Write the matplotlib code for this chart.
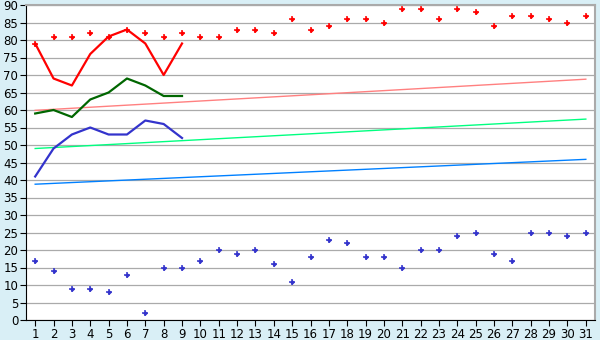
import numpy as np
import matplotlib
matplotlib.use('Agg')
import matplotlib.pyplot as plt

# days of the month
days = list(range(1, 32))

# daily max / min (scatter)
max_pts = [79, 81, 81, 82, 81, 83, 82, 81, 82, 81, 81, 83, 83, 82, 86, 83,
           84, 86, 86, 85, 89, 89, 86, 89, 88, 84, 87, 87, 86, 85, 87]
min_pts = [17, 14, 9, 9, 8, 13, 2, 15, 15, 17, 20, 19, 20, 16, 11, 18,
           23, 22, 18, 18, 15, 20, 20, 24, 25, 19, 17, 25, 25, 24, 25]

# first 9 days, lines
line_days = list(range(1, 10))
red_line = [79, 69, 67, 76, 81, 83, 79, 70, 79]
green_line = [59, 60, 58, 63, 65, 69, 67, 64, 64]
blue_line = [41, 49, 53, 55, 53, 53, 57, 56, 52]

# trend lines (value at day 1, value at day 31)
trend_days = [1, 31]
trend_hi = [59.9, 68.8]
trend_mid = [49.0, 57.4]
trend_lo = [38.8, 45.9]

bg = '#d9eff6'
fig = plt.figure(figsize=(6, 3.4), dpi=100, facecolor=bg)
ax = fig.add_axes([26 / 600, 20 / 340, 569 / 600, 315 / 340])
ax.set_facecolor('white')

ax.set_xlim(0.5, 31.5)
ax.set_ylim(0, 90)
ax.set_yticks(range(0, 91, 5))
ax.set_xticks(days)
ax.grid(axis='y', color='#aaaaaa', linewidth=0.9)
ax.set_axisbelow(True)

ax.plot(trend_days, trend_hi, color='#ff8080', lw=1.0)
ax.plot(trend_days, trend_mid, color='#00ff80', lw=1.0)
ax.plot(trend_days, trend_lo, color='#0080ff', lw=1.0)

ax.plot(line_days, red_line, color='#ff0000', lw=1.6)
ax.plot(line_days, green_line, color='#006600', lw=1.6)
ax.plot(line_days, blue_line, color='#3333cc', lw=1.6)

for pts, c in [(max_pts, '#ff0000'), (min_pts, '#3333cc')]:
    ax.plot(days, pts, '+', color=c, markersize=4.5, markeredgewidth=1.1)
    ax.plot(days, pts, 'D', color=c, markersize=2.5, markeredgewidth=0)

for s in ['top', 'right']:
    ax.spines[s].set_color('#aaaaaa')
    ax.spines[s].set_linewidth(1.5)
for s in ['left', 'bottom']:
    ax.spines[s].set_color('#000000')
    ax.spines[s].set_linewidth(0.8)

ax.tick_params(axis='both', labelsize=8.5, color='black', length=4, width=0.8, pad=1.5)

fig.savefig('out.png', dpi=100, facecolor=bg)
